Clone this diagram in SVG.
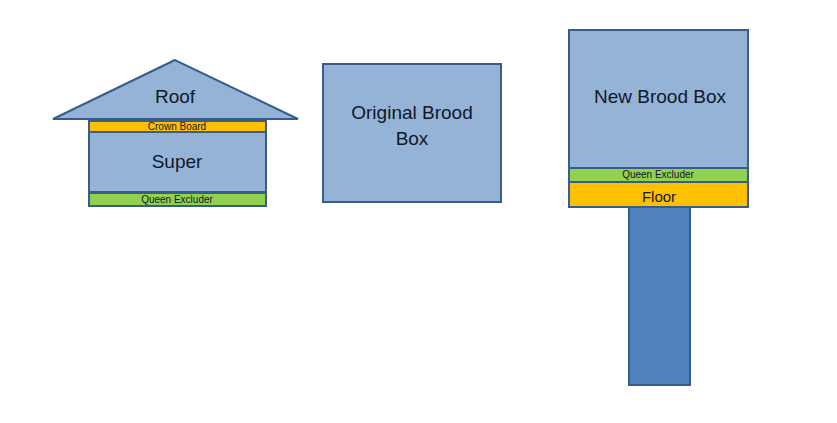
<svg xmlns="http://www.w3.org/2000/svg" width="837" height="423" viewBox="0 0 837 423">
<style>
.b{fill:#95B3D7;stroke:#385D8A;stroke-width:2}
.o{fill:#FFC000;stroke:#385D8A;stroke-width:2}
.g{fill:#92D050;stroke:#385D8A;stroke-width:2}
.s{fill:#4F81BD;stroke:#385D8A;stroke-width:2}
text{font-family:"Liberation Sans",Arial,sans-serif;fill:#111827;text-anchor:middle}
.l{font-size:19px}
.m{font-size:15px}
.t{font-size:10px}
</style>
<rect width="837" height="423" fill="#fff"/>
<g id="roof"><polygon class="b" points="175,60 53,119 298,119"/><text class="l" x="175" y="103">Roof</text></g>
<g id="crown-board"><rect class="o" x="89" y="121" width="177" height="11"/><text class="t" x="177" y="130">Crown Board</text></g>
<g id="super"><rect class="b" x="89" y="132" width="177" height="60"/><text class="l" x="177" y="168">Super</text></g>
<g id="queen-excluder-1"><rect class="g" x="89" y="193" width="177" height="13"/><text class="t" x="177" y="203">Queen Excluder</text></g>
<g id="original-brood-box"><rect class="b" x="323" y="64" width="178" height="138"/><text class="l" x="412" y="119">Original Brood</text><text class="l" x="412" y="145">Box</text></g>
<g id="new-brood-box"><rect class="b" x="569" y="30" width="179" height="138"/><text class="l" x="660" y="103">New Brood Box</text></g>
<g id="queen-excluder-2"><rect class="g" x="569" y="168" width="179" height="14"/><text class="t" x="658" y="178">Queen Excluder</text></g>
<g id="floor"><rect class="o" x="569" y="182" width="179" height="25"/><text class="m" x="659" y="202">Floor</text></g>
<g id="stand"><rect class="s" x="629" y="207" width="61" height="178"/></g>
<g id="connectors"></g>
</svg>
